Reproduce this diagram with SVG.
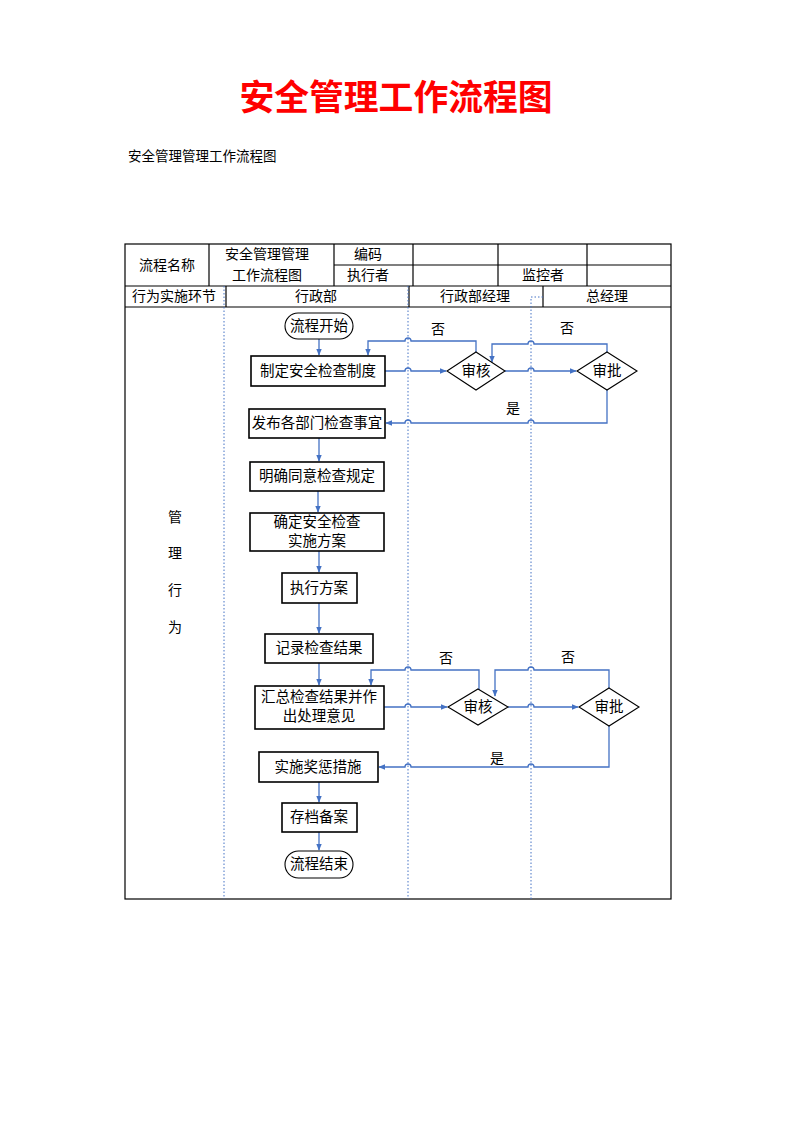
<svg xmlns="http://www.w3.org/2000/svg" width="794" height="1123" viewBox="0 0 794 1123">
<style>
text{font-family:"Liberation Serif","Noto Sans CJK SC",serif;fill:#000;}
.t{font-size:14px;text-anchor:middle;}
.n{font-size:14.5px;text-anchor:middle;}
.g{fill:none;stroke:#000;stroke-width:1.2;}
.box{fill:#fff;stroke:#000;stroke-width:1.6;}
.sh{fill:#fff;stroke:#000;stroke-width:1.1;}
.lane{fill:none;stroke:#4472C4;stroke-width:1;stroke-dasharray:1.5,2;}
.c{fill:none;stroke:#4472C4;stroke-width:1.3;}
</style>
<defs>
<marker id="a" viewBox="0 0 10 10" refX="9" refY="5" markerWidth="7" markerHeight="7" orient="auto" markerUnits="userSpaceOnUse">
<path d="M0,1 L10,5 L0,9 Z" fill="#4472C4"/>
</marker>
</defs>
<rect width="794" height="1123" fill="#fff"/>
<text x="396" y="110" style="font-family:'Noto Sans CJK SC',sans-serif;font-size:34.8px;font-weight:bold;fill:#FF0000;text-anchor:middle">安全管理工作流程图</text>
<text x="128" y="161" style="font-size:13.5px">安全管理管理工作流程图</text>

<g id="table">
<rect x="125" y="244" width="546" height="655" class="g"/>
<line x1="334" y1="265" x2="671" y2="265" class="g"/>
<line x1="125" y1="286" x2="671" y2="286" class="g"/>
<line x1="125" y1="307" x2="671" y2="307" class="g"/>
<line x1="209" y1="244" x2="209" y2="286" class="g"/>
<line x1="334" y1="244" x2="334" y2="286" class="g"/>
<line x1="413" y1="244" x2="413" y2="286" class="g"/>
<line x1="498" y1="244" x2="498" y2="286" class="g"/>
<line x1="587" y1="244" x2="587" y2="286" class="g"/>
<line x1="226" y1="286" x2="226" y2="307" class="g"/>
<line x1="409" y1="286" x2="409" y2="307" class="g"/>
<line x1="543" y1="286" x2="543" y2="307" class="g"/>
<text x="167" y="270" class="t">流程名称</text>
<text x="267" y="259" class="t">安全管理管理</text>
<text x="267" y="280" class="t">工作流程图</text>
<text x="368" y="259" class="t">编码</text>
<text x="368" y="280" class="t">执行者</text>
<text x="543" y="280" class="t">监控者</text>
<text x="174" y="301" class="t">行为实施环节</text>
<text x="316" y="301" class="t">行政部</text>
<text x="475" y="301" class="t">行政部经理</text>
<text x="607" y="301" class="t">总经理</text>
<text x="175" y="522" class="t">管</text>
<text x="175" y="558" class="t">理</text>
<text x="175" y="595" class="t">行</text>
<text x="175" y="632" class="t">为</text>
</g>

<g id="lanes">
<line x1="224" y1="286" x2="224" y2="899" class="lane"/>
<line x1="408" y1="286" x2="408" y2="899" class="lane"/>
<path d="M543,297 H531 V899" class="lane"/>
</g>

<g id="connectors">
<path d="M319,339 V355" class="c" marker-end="url(#a)"/>
<path d="M385,371 H405 a3,3 0 0 1 6,0 H446" class="c" marker-end="url(#a)"/>
<path d="M505,371 H528 a3,3 0 0 1 6,0 H576" class="c" marker-end="url(#a)"/>
<path d="M476,352 V341 H411 a3,3 0 0 0 -6,0 H368 V355" class="c" marker-end="url(#a)"/>
<path d="M607,352 V344 H534 a3,3 0 0 0 -6,0 H492 V362" class="c" marker-end="url(#a)"/>
<path d="M607,390 V423 H534 a3,3 0 0 0 -6,0 H411 a3,3 0 0 0 -6,0 H386" class="c" marker-end="url(#a)"/>
<path d="M319,438 V461" class="c" marker-end="url(#a)"/>
<path d="M318,491 V512" class="c" marker-end="url(#a)"/>
<path d="M319,551 V572" class="c" marker-end="url(#a)"/>
<path d="M319,603 V633" class="c" marker-end="url(#a)"/>
<path d="M319,663 V685" class="c" marker-end="url(#a)"/>
<path d="M384,707 H405 a3,3 0 0 1 6,0 H447" class="c" marker-end="url(#a)"/>
<path d="M508,707 H528 a3,3 0 0 1 6,0 H578" class="c" marker-end="url(#a)"/>
<path d="M479,690 V670 H411 a3,3 0 0 0 -6,0 H371 V685" class="c" marker-end="url(#a)"/>
<path d="M609,688 V670 H534 a3,3 0 0 0 -6,0 H495 V696" class="c" marker-end="url(#a)"/>
<path d="M609,726 V767 H534 a3,3 0 0 0 -6,0 H411 a3,3 0 0 0 -6,0 H379" class="c" marker-end="url(#a)"/>
<path d="M319,782 V802" class="c" marker-end="url(#a)"/>
<path d="M319,832 V850" class="c" marker-end="url(#a)"/>
<text x="438" y="334" class="t">否</text>
<text x="567" y="333" class="t">否</text>
<text x="513" y="413" class="t">是</text>
<text x="446" y="663" class="t">否</text>
<text x="568" y="662" class="t">否</text>
<text x="497" y="763" class="t">是</text>
</g>

<g id="start"><rect x="285" y="313" width="68" height="26" rx="13" class="sh"/><text x="319" y="331" class="n">流程开始</text></g>
<g id="n1"><rect x="251" y="356" width="134" height="30" class="box"/><text x="318" y="376" class="n">制定安全检查制度</text></g>
<g id="d1"><path d="M476,352 L505,371 L476,390 L447,371 Z" class="sh"/><text x="476" y="376" class="n">审核</text></g>
<g id="d2"><path d="M607,352 L637,371 L607,390 L577,371 Z" class="sh"/><text x="607" y="376" class="n">审批</text></g>
<g id="n2"><rect x="249" y="409" width="136" height="29" class="box"/><text x="317" y="428" class="n">发布各部门检查事宜</text></g>
<g id="n3"><rect x="250" y="462" width="134" height="29" class="box"/><text x="317" y="481" class="n">明确同意检查规定</text></g>
<g id="n4"><rect x="250" y="513" width="134" height="38" class="box"/><text x="317" y="527" class="n">确定安全检查</text><text x="317" y="546" class="n">实施方案</text></g>
<g id="n5"><rect x="282" y="573" width="75" height="30" class="box"/><text x="319" y="593" class="n">执行方案</text></g>
<g id="n6"><rect x="265" y="634" width="108" height="29" class="box"/><text x="319" y="653" class="n">记录检查结果</text></g>
<g id="n7"><rect x="255" y="686" width="129" height="43" class="box"/><text x="319" y="702" class="n">汇总检查结果并作</text><text x="319" y="721" class="n">出处理意见</text></g>
<g id="d3"><path d="M478,689 L508,707 L478,725 L448,707 Z" class="sh"/><text x="478" y="712" class="n">审核</text></g>
<g id="d4"><path d="M609,688 L639,707 L609,726 L579,707 Z" class="sh"/><text x="609" y="712" class="n">审批</text></g>
<g id="n8"><rect x="259" y="752" width="119" height="30" class="box"/><text x="318" y="772" class="n">实施奖惩措施</text></g>
<g id="n9"><rect x="282" y="803" width="75" height="29" class="box"/><text x="319" y="822" class="n">存档备案</text></g>
<g id="end"><rect x="285" y="851" width="68" height="27" rx="13.5" class="sh"/><text x="319" y="869" class="n">流程结束</text></g>
</svg>
